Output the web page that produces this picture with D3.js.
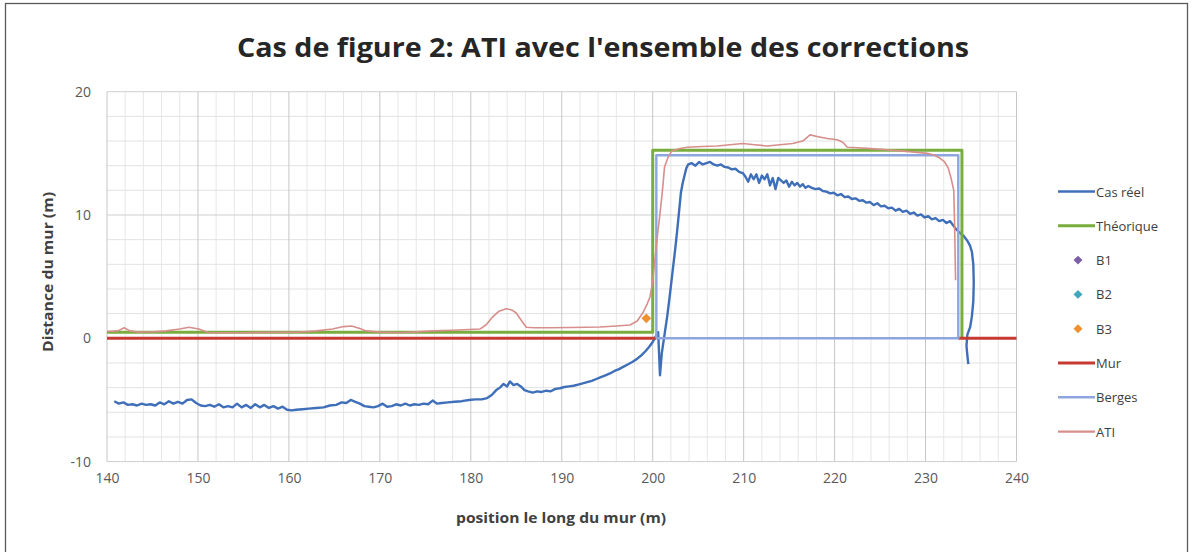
<!DOCTYPE html>
<html>
<head>
<meta charset="utf-8">
<script src="https://cdn.jsdelivr.net/npm/d3@7"></script>
<style>
  html, body { margin: 0; padding: 0; background: #ffffff; }
  svg { display: block; }
  text { font-family: "Open Sans", "Noto Sans", "Liberation Sans", sans-serif; }
</style>
</head>
<body>
<svg id="chart" width="1192" height="552"></svg>
<script>
// ---- data -------------------------------------------------------------
const titleText = "Cas de figure 2: ATI avec l'ensemble des corrections";
const xTitle = "position le long du mur (m)";
const yTitle = "Distance du mur (m)";
const xTicks = [140, 150, 160, 170, 180, 190, 200, 210, 220, 230, 240];
const yTicks = [-10, 0, 10, 20];

// measured trajectory [position, distance]
const casReel = [
  [140.8,-5.1],[141.3,-5.3],[141.8,-5.2],[142.3,-5.4],[142.8,-5.35],[143.3,-5.45],[143.8,-5.3],
  [144.3,-5.4],[144.8,-5.35],[145.3,-5.45],[145.8,-5.2],[146.3,-5.35],[146.8,-5.1],[147.3,-5.3],
  [147.8,-5.15],[148.3,-5.3],[148.8,-5.0],[149.3,-4.95],[149.8,-5.25],[150.3,-5.45],[150.8,-5.5],
  [151.3,-5.4],[151.8,-5.55],[152.3,-5.35],[152.8,-5.6],[153.3,-5.5],[153.8,-5.6],[154.3,-5.3],
  [154.8,-5.6],[155.3,-5.4],[155.8,-5.65],[156.3,-5.35],[156.8,-5.6],[157.3,-5.4],[157.8,-5.65],
  [158.3,-5.5],[158.8,-5.7],[159.3,-5.55],[159.8,-5.8],[160.3,-5.85],[160.8,-5.8],[161.5,-5.75],
  [162.2,-5.7],[163.0,-5.65],[163.8,-5.6],[164.5,-5.45],[165.2,-5.4],[165.8,-5.2],[166.3,-5.25],
  [166.8,-5.0],[167.3,-5.15],[167.8,-5.3],[168.3,-5.5],[168.8,-5.55],[169.3,-5.6],[169.8,-5.5],
  [170.3,-5.3],[170.8,-5.55],[171.3,-5.5],[171.8,-5.35],[172.3,-5.45],[172.8,-5.3],[173.3,-5.45],
  [173.8,-5.35],[174.3,-5.4],[174.8,-5.3],[175.3,-5.35],[175.8,-5.05],[176.3,-5.3],[176.8,-5.25],
  [177.5,-5.2],[178.2,-5.15],[179.0,-5.1],[179.8,-5.0],[180.5,-4.95],[181.2,-4.95],[181.8,-4.85],
  [182.3,-4.6],[182.8,-4.2],[183.2,-4.0],[183.6,-3.7],[184.0,-3.9],[184.3,-3.5],[184.7,-3.8],
  [185.1,-3.7],[185.5,-3.9],[185.9,-4.2],[186.3,-4.3],[186.8,-4.4],[187.3,-4.3],[187.8,-4.35],
  [188.3,-4.25],[188.8,-4.3],[189.3,-4.1],[189.8,-4.05],[190.3,-3.95],[190.8,-3.9],[191.3,-3.85],
  [191.8,-3.75],[192.3,-3.65],[192.8,-3.55],[193.3,-3.45],[193.8,-3.3],[194.3,-3.15],[194.8,-3.0],
  [195.3,-2.85],[195.8,-2.65],[196.3,-2.5],[196.8,-2.3],[197.3,-2.1],[197.8,-1.9],[198.3,-1.65],
  [198.8,-1.35],[199.2,-1.05],[199.6,-0.7],[200.0,-0.3],[200.3,0.1],[200.6,0.5],[200.8,-3.0],
  [201.0,-1.2],[201.3,0.3],[201.6,1.8],[201.9,3.6],[202.2,5.5],[202.5,7.4],[202.7,8.8],[202.9,10.3],
  [203.1,11.8],[203.3,12.6],[203.5,13.2],[203.7,13.8],[203.9,14.1],[204.3,14.2],[204.7,14.0],
  [205.1,14.3],[205.5,14.1],[205.9,14.2],[206.3,14.3],[206.7,14.1],[207.1,14.0],[207.5,14.1],
  [207.9,13.9],[208.3,13.85],[208.7,13.7],[209.1,13.75],[209.5,13.5],[209.9,13.4],[210.2,13.1],
  [210.5,12.7],[210.8,13.3],[211.1,12.9],[211.4,13.3],[211.7,12.6],[212.0,13.2],[212.3,12.9],
  [212.6,13.3],[212.9,12.4],[213.2,13.0],[213.5,12.1],[213.8,13.0],[214.1,12.8],[214.4,12.6],
  [214.7,12.8],[215.0,12.3],[215.3,12.7],[215.6,12.4],[215.9,12.6],[216.2,12.3],[216.5,12.5],
  [216.8,12.2],[217.1,12.35],[217.5,12.2],[217.9,12.1],[218.3,12.15],[218.7,11.95],[219.1,11.9],
  [219.5,11.75],[219.9,11.8],[220.3,11.6],[220.7,11.7],[221.1,11.45],[221.5,11.5],[221.9,11.3],
  [222.3,11.35],[222.7,11.15],[223.1,11.2],[223.5,11.0],[223.9,11.05],[224.3,10.8],[224.7,10.95],
  [225.1,10.7],[225.5,10.75],[225.9,10.55],[226.3,10.6],[226.7,10.35],[227.1,10.5],[227.5,10.25],
  [227.9,10.35],[228.3,10.1],[228.7,10.2],[229.1,9.95],[229.5,10.05],[229.9,9.8],[230.3,9.9],
  [230.7,9.65],[231.1,9.75],[231.5,9.5],[231.9,9.6],[232.3,9.35],[232.7,9.5],[233.0,9.2],
  [233.3,8.9],[233.7,8.6],[234.2,8.3],[234.6,7.9],[234.9,7.5],[235.1,7.0],[235.25,6.0],
  [235.3,4.5],[235.25,3.0],[235.1,1.8],[234.9,0.9],[234.6,0.3],[234.5,-0.6],[234.6,-1.4],[234.7,-2.1]
];

const theorique = [[140,0.5],[200,0.5],[200,15.25],[234,15.25],[234,0]];
const b1 = [];
const b2 = [];
const b3 = [[199.3,1.62]];
const mur = [[140,0],[200.4,0],[200.4,null],[233.6,null],[233.6,0],[240,0]];
const berges = [[200.4,0],[200.4,14.85],[233.6,14.85],[233.6,0],[200.4,0]];
const ati = [
  [140,0.55],[141.2,0.6],[141.9,0.85],[142.5,0.6],[143.5,0.5],[145,0.52],[146.5,0.6],[148,0.75],
  [149,0.9],[150.1,0.75],[151.2,0.45],[155,0.45],[158,0.48],[161.1,0.5],[163,0.6],[164.8,0.75],
  [166,0.95],[166.9,1.0],[167.8,0.8],[168.5,0.6],[170,0.5],[172.2,0.45],[174,0.52],[175.8,0.6],
  [178,0.65],[181.0,0.75],[181.7,1.1],[182.3,1.65],[183.1,2.2],[183.9,2.4],[184.5,2.3],[185.0,2.05],
  [185.6,1.4],[186.1,0.9],[187,0.85],[188.7,0.85],[191,0.88],[194.2,0.92],[196,1.0],[197.5,1.08],
  [198.3,1.4],[198.9,2.05],[199.4,2.8],[199.7,3.35],[200.0,4.6],[200.2,6.1],[200.5,8.2],[200.8,10.1],
  [201.1,12.2],[201.3,13.9],[201.7,14.7],[202.1,15.2],[203.0,15.4],[203.8,15.5],[205.5,15.55],
  [207.1,15.6],[208.5,15.7],[209.9,15.8],[211.2,15.7],[212.6,15.6],[214,15.7],[215.4,15.8],
  [216.5,16.0],[217.3,16.5],[218.2,16.35],[219.2,16.2],[220.3,16.1],[220.9,15.9],[221.4,15.5],
  [222.5,15.45],[223.6,15.4],[225.5,15.3],[227.2,15.2],[228.8,15.1],[230.2,15.0],[231.0,14.85],
  [231.6,14.6],[232.1,14.3],[232.5,13.8],[232.8,13.0],[233.1,12.0],[233.2,9.0],[233.3,4.7]
];

const legendLabels = ["Cas réel", "Théorique", "B1", "B2", "B3", "Mur", "Berges", "ATI"];

// ---- layout ------------------------------------------------------------
const svg = d3.select("#chart");
const x = d3.scaleLinear().domain([140, 240]).range([107, 1016.5]);
const y = d3.scaleLinear().domain([-10, 20]).range([461.6, 91.7]);

// outer frame
svg.append("rect")
  .attr("x", 5.5).attr("y", 3.5).attr("width", 1182).attr("height", 560)
  .attr("fill", "#ffffff").attr("stroke", "#5a5a5a").attr("stroke-width", 1.3);

// grid: minor every 2 m, major every 10 m
const minorX = d3.range(142, 240, 2).filter(v => v % 10 !== 0);
const minorY = d3.range(-8, 20, 2).filter(v => v % 10 !== 0);
const grid = svg.append("g");
grid.selectAll(".mx").data(minorX).join("line")
  .attr("x1", d => x(d)).attr("x2", d => x(d))
  .attr("y1", y(20)).attr("y2", y(-10))
  .attr("stroke", "#e7e7e7").attr("stroke-width", 1);
grid.selectAll(".my").data(minorY).join("line")
  .attr("x1", x(140)).attr("x2", x(240))
  .attr("y1", d => y(d)).attr("y2", d => y(d))
  .attr("stroke", "#e2e2e2").attr("stroke-width", 1);
grid.selectAll(".Mx").data(xTicks).join("line")
  .attr("x1", d => x(d)).attr("x2", d => x(d))
  .attr("y1", y(20)).attr("y2", y(-10))
  .attr("stroke", "#c6c6c6").attr("stroke-width", 1);
grid.selectAll(".My").data(yTicks).join("line")
  .attr("x1", x(140)).attr("x2", x(240))
  .attr("y1", d => y(d)).attr("y2", d => y(d))
  .attr("stroke", "#cfcfcf").attr("stroke-width", 1);

// axes (labels only, lines come from the grid)
const plainInt = d => String(Math.round(d));
const xAxis = svg.append("g").attr("transform", `translate(0,${y(-10)})`)
  .call(d3.axisBottom(x).tickValues(xTicks).tickSize(0).tickPadding(11).tickFormat(plainInt));
const yAxis = svg.append("g").attr("transform", `translate(${x(140)},0)`)
  .call(d3.axisLeft(y).tickValues(yTicks).tickSize(0).tickPadding(16).tickFormat(plainInt));
[xAxis, yAxis].forEach(a => {
  a.select(".domain").remove();
  a.selectAll("text").attr("fill", "#595959").attr("font-size", 14)
    .attr("font-family", "'Open Sans', sans-serif");
});

// titles
svg.append("text")
  .attr("x", 603).attr("y", 57).attr("text-anchor", "middle")
  .attr("font-size", 27).attr("font-weight", "bold").attr("fill", "#262626")
  .attr("textLength", 732).attr("lengthAdjust", "spacingAndGlyphs")
  .text(titleText);

svg.append("text")
  .attr("x", 561).attr("y", 523).attr("text-anchor", "middle")
  .attr("font-size", 14.5).attr("font-weight", "bold").attr("fill", "#404040")
  .attr("textLength", 210).attr("lengthAdjust", "spacingAndGlyphs")
  .text(xTitle);
svg.append("text")
  .attr("transform", `translate(53,${272}) rotate(-90)`)
  .attr("text-anchor", "middle")
  .attr("font-size", 14.5).attr("font-weight", "bold").attr("fill", "#404040")
  .attr("textLength", 160).attr("lengthAdjust", "spacingAndGlyphs")
  .text(yTitle);

// ---- series ------------------------------------------------------------
const line = d3.line()
  .defined(d => d[1] !== null)
  .x(d => x(d[0])).y(d => y(d[1]));

const plot = svg.append("g");
const series = [
  { name: legendLabels[0], data: casReel,  color: "#3f6fb8", width: 2.4, type: "line" },
  { name: legendLabels[1], data: theorique, color: "#79ad3e", width: 3,   type: "line" },
  { name: legendLabels[2], data: b1,       color: "#7b5ea7", type: "marker" },
  { name: legendLabels[3], data: b2,       color: "#3fa8be", type: "marker" },
  { name: legendLabels[4], data: b3,       color: "#f0902e", type: "marker" },
  { name: legendLabels[5], data: mur,      color: "#c63a30", width: 3,   type: "line" },
  { name: legendLabels[6], data: berges,   color: "#8ea6e0", width: 2.4, type: "line" },
  { name: legendLabels[7], data: ati,      color: "#d68f8b", width: 1.6, type: "line" }
];

// square marker turned 45° = Excel-style diamond
const diamond = d3.symbol().type(d3.symbolSquare).size(48);

series.forEach(s => {
  if (s.type === "line") {
    plot.append("path").datum(s.data)
      .attr("d", line)
      .attr("fill", "none")
      .attr("stroke", s.color)
      .attr("stroke-width", s.width)
      .attr("stroke-linejoin", "round");
  } else {
    plot.selectAll(null).data(s.data).join("path")
      .attr("d", diamond)
      .attr("transform", d => `translate(${x(d[0])},${y(d[1])}) rotate(45)`)
      .attr("fill", s.color);
  }
});

// ---- legend ------------------------------------------------------------
const legend = svg.append("g").attr("transform", "translate(1058,191.5)");
const item = legend.selectAll("g").data(series).join("g")
  .attr("transform", (d, i) => `translate(0,${i * 34.3})`);
item.filter(d => d.type === "line").append("line")
  .attr("x1", 0).attr("x2", 37).attr("y1", 0).attr("y2", 0)
  .attr("stroke", d => d.color).attr("stroke-width", d => Math.max(d.width, 2.4));
item.filter(d => d.type === "marker").append("path")
  .attr("d", d3.symbol().type(d3.symbolSquare).size(40))
  .attr("transform", "translate(20,0) rotate(45)")
  .attr("fill", d => d.color);
item.append("text")
  .attr("x", 38).attr("y", 5)
  .attr("font-size", 13).attr("fill", "#404040")
  .text(d => d.name);
</script>
</body>
</html>
